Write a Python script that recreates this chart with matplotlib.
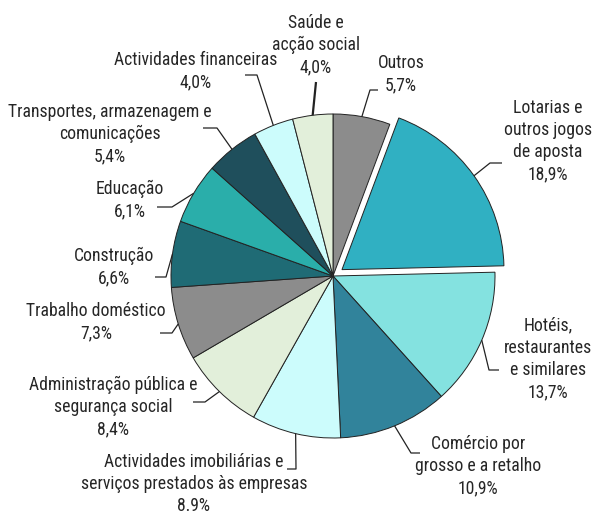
import math

import matplotlib

matplotlib.use("Agg")
import matplotlib.pyplot as plt

plt.rcParams["font.family"] = ["Roboto Condensed", "DejaVu Sans"]

# clockwise from 12 o'clock
sectors = [
    "Outros",
    "Lotarias e\noutros jogos\nde aposta",
    "Hotéis,\nrestaurantes\ne similares",
    "Comércio por\ngrosso e a retalho",
    "Actividades imobiliárias e\nserviços prestados às empresas",
    "Administração pública e\nsegurança social",
    "Trabalho doméstico",
    "Construção",
    "Educação",
    "Transportes, armazenagem e\ncomunicações",
    "Actividades financeiras",
    "Saúde e\nacção social",
]
shares = [5.7, 18.9, 13.7, 10.9, 8.9, 8.4, 7.3, 6.6, 6.1, 5.4, 4.0, 4.0]
share_text = ["5,7%", "18,9%", "13,7%", "10,9%", "8.9%", "8,4%",
              "7,3%", "6,6%", "6,1%", "5,4%", "4,0%", "4,0%"]
colors = ["#8c8c8c", "#30b0c2", "#84e2e0", "#31839b", "#ccfcfc", "#e2efda",
          "#8c8c8c", "#1f6b75", "#2aaeaa", "#1f4f5c", "#ccfcfc", "#e2efda"]
explode = [0, 11, 0, 0, 0, 0, 0, 0, 0, 0, 0, 0]

# layout in pixel coords (y down): text centre, leader elbow, leader end
text_pos = [(401, 74), (548, 141), (548, 359), (478, 466), (194, 484), (113, 407),
            (96, 322), (114, 267), (130, 200), (110, 134), (196, 71), (316, 45)]
elbows = [(370, 90), (490, 163), (489, 370), (411, 453), (296, 469), (205, 402),
          (172, 333), (166, 277), (172, 207), (217, 128), (257, 75), None]
ends = [(378, 90), (502, 163), (499, 370), (420, 453), (287, 469), (193, 402),
        (160, 333), (155, 277), (157, 207), (203, 128), (245, 75), (316, 82)]

W, H = 593, 514
cx, cy, r = 333, 276, 162

fig = plt.figure(figsize=(W / 100, H / 100), dpi=100)
ax = fig.add_axes([0, 0, 1, 1])
wedges, _ = ax.pie(
    shares,
    colors=colors,
    explode=explode,
    startangle=-90,
    counterclock=True,
    radius=r,
    center=(cx, cy),
    wedgeprops=dict(edgecolor="#222222", linewidth=0.7),
)
ax.set_xlim(0, W)
ax.set_ylim(H, 0)
ax.set_aspect("equal")
ax.axis("off")

for i, w in enumerate(wedges):
    tm = math.radians(0.5 * (w.theta1 + w.theta2))
    x0 = w.center[0] + r * math.cos(tm)
    y0 = w.center[1] + r * math.sin(tm)
    if elbows[i] is None:
        xs, ys = [x0, ends[i][0]], [y0, ends[i][1]]
        lw = 1.6
    else:
        xs = [x0, elbows[i][0], ends[i][0]]
        ys = [y0, elbows[i][1], ends[i][1]]
        lw = 0.9
    ax.plot(xs, ys, color="#222222", linewidth=lw, solid_capstyle="butt")
    ax.text(text_pos[i][0], text_pos[i][1], f"{sectors[i]}\n{share_text[i]}",
            ha="center", va="center", multialignment="center",
            fontsize=12.7, color="#262626", linespacing=1.3)

fig.savefig("out.png", dpi=100)
